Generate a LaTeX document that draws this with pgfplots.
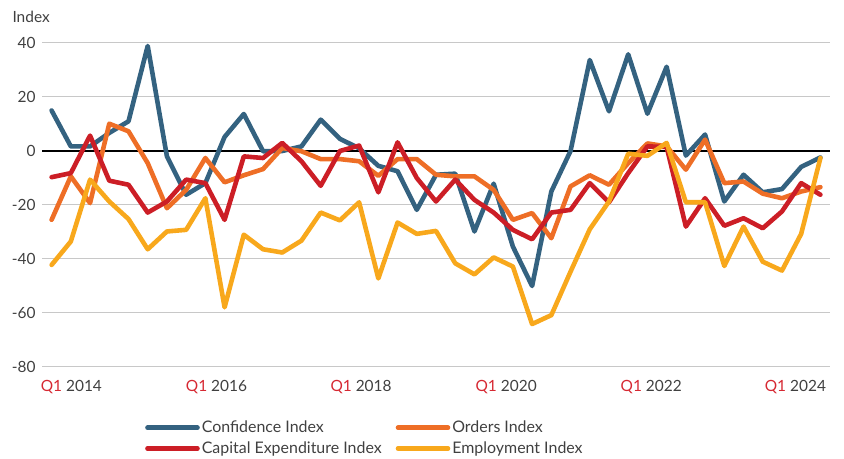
\documentclass[border=0pt]{standalone}
\usepackage{pgfplots}
\pgfplotsset{compat=1.18}
\usepackage{pgfplotstable}
\usepackage{fontspec}
\setmainfont{Lato}
\definecolor{conf}{RGB}{52,98,128}
\definecolor{orders}{RGB}{238,110,38}
\definecolor{capex}{RGB}{204,30,38}
\definecolor{employ}{RGB}{248,168,28}
\definecolor{qred}{RGB}{214,40,50}
\definecolor{txt}{RGB}{64,64,64}
\definecolor{gridc}{RGB}{200,200,200}
\pgfplotstableread{
i conf orders capex employ
0 15 -25.5 -9.7 -42.2
1 1.7 -9.4 -8.2 -33.5
2 1.7 -19.3 5.7 -10.6
3 6.7 10.1 -11 -18.7
4 11 7.3 -12.5 -25.2
5 38.9 -4.5 -22.8 -36.4
6 -2 -21.2 -18.7 -29.8
7 -16.2 -14.4 -10.6 -29.2
8 -11.9 -2.6 -11.9 -17.5
9 5.2 -11.6 -25.5 -57.9
10 13.7 -9 -2 -31
11 -0.1 -6.7 -2.6 -36.4
12 0 1.1 3 -37.6
13 1.7 -0.1 -3.8 -33.2
14 11.6 -3 -12.9 -22.8
15 4.5 -3 0 -25.7
16 1 -3.8 2 -19
17 -5.5 -9.2 -15.3 -47.2
18 -7.5 -3 3.2 -26.5
19 -21.8 -3 -10 -30.7
20 -8.8 -8.8 -18.7 -29.6
21 -8.4 -9.4 -10.6 -41.6
22 -29.8 -9.4 -18.1 -45.7
23 -12.1 -14.4 -22.8 -39.4
24 -35.4 -25.5 -29.2 -42.8
25 -50 -23 -32.7 -64.1
26 -15 -32.3 -22.8 -60.8
27 0 -13.1 -21.8 -44.7
28 33.7 -9 -11.9 -29
29 14.7 -12.5 -19 -18.7
30 35.8 -4.5 -8.2 -1
31 13.8 2.8 1.7 -1.8
32 31.2 1.7 1.5 3
33 -1.7 -6.9 -28 -19
34 6.1 4.2 -17.5 -19
35 -18.7 -11.9 -27.7 -42.6
36 -8.8 -11.3 -24.9 -28
37 -15.3 -15.8 -28.6 -41
38 -14.1 -17.5 -22.4 -44.3
39 -5.9 -15 -11.9 -30.7
40 -2.4 -13.4 -16.2 -2.6
}\datatable
\begin{document}
\begin{tikzpicture}[x=1bp,y=1bp]
\useasboundingbox (0,0) rectangle (844,459);
\begin{axis}[
  at={(42bp,92bp)}, anchor=south west,
  scale only axis, width=788bp, height=324bp,
  xmin=-0.5, xmax=40.5, ymin=-80, ymax=40,
  ytick={-80,-60,-40,-20,0,20,40},
  xtick={1.03,8.58,16.1,23.65,31.2,38.7},
  xticklabels={{\textcolor{qred}{Q1} 2014},{\textcolor{qred}{Q1} 2016},{\textcolor{qred}{Q1} 2018},{\textcolor{qred}{Q1} 2020},{\textcolor{qred}{Q1} 2022},{\textcolor{qred}{Q1} 2024}},
  major tick length=0pt,
  axis line style={draw=none},
  ymajorgrids, grid style={gridc, line width=1bp},
  extra y ticks={0}, extra y tick labels={},
  extra y tick style={grid style={black, line width=1.1bp}},
  /pgf/number format/assume math mode=true,
  tick label style={font=\fontsize{15.5}{18}\selectfont, text=txt},
  yticklabel style={anchor=east, xshift=-3bp},
  xticklabel style={anchor=north, yshift=-10bp},
  clip=false,
  every axis plot/.append style={line width=4.6bp, line join=round, line cap=round},
  legend columns=2,
  legend cell align=left,
  legend style={draw=none, fill=none, at={(100bp,-50bp)}, anchor=north west,
    font=\fontsize{16}{19}\selectfont, text=txt,
    /tikz/every even column/.append style={column sep=12bp},
    row sep=3.5bp},
  legend image code/.code={\draw (0bp,0bp) -- (50bp,0bp);},
]
\addplot[conf] table[x=i,y=conf]{\datatable};
\addlegendentry{Confidence Index}
\addplot[orders] table[x=i,y=orders]{\datatable};
\addlegendentry{Orders Index}
\addplot[capex] table[x=i,y=capex]{\datatable};
\addlegendentry{Capital Expenditure Index}
\addplot[employ] table[x=i,y=employ]{\datatable};
\addlegendentry{Employment Index}
\end{axis}
\node[anchor=west, text=txt, font=\fontsize{15.5}{18}\selectfont] at (9,442) {Index};
\end{tikzpicture}
\end{document}
